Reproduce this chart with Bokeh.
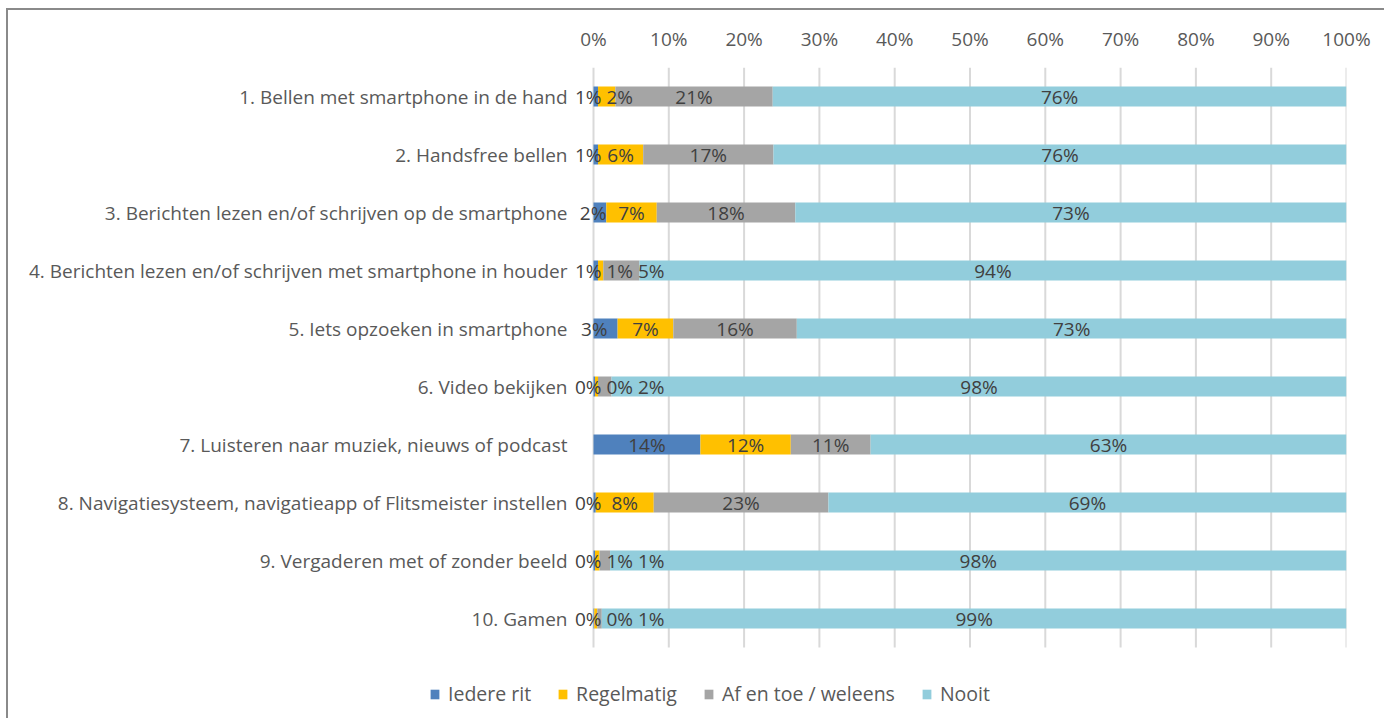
from bokeh.plotting import figure
from bokeh.models import ColumnDataSource, FixedTicker, PrintfTickFormatter, Legend, LegendItem, Range1d
from bokeh.embed import file_html
from bokeh.resources import INLINE
from bokeh.core.properties import value

categories = [
    "1. Bellen met smartphone in de hand",
    "2. Handsfree bellen",
    "3. Berichten lezen en/of schrijven op de smartphone",
    "4. Berichten lezen en/of schrijven met smartphone in houder",
    "5. Iets opzoeken in smartphone",
    "6. Video bekijken",
    "7. Luisteren naar muziek, nieuws of podcast",
    "8. Navigatiesysteem, navigatieapp of Flitsmeister instellen",
    "9. Vergaderen met of zonder beeld",
    "10. Gamen",
]
iedere_rit = [0.6, 0.6, 1.7, 0.6, 3.2, 0.2, 14.2, 0.3, 0.2, 0.1]
regelmatig = [2.3, 6.0, 6.7, 0.7, 7.4, 0.4, 12.0, 7.7, 0.6, 0.4]
af_en_toe = [20.9, 17.3, 18.4, 4.8, 16.4, 1.8, 10.6, 23.2, 1.4, 0.6]
nooit = [76.2, 76.1, 73.2, 93.9, 73.0, 97.6, 63.2, 68.8, 97.8, 98.9]
series_names = ["Iedere rit", "Regelmatig", "Af en toe / weleens", "Nooit"]
tick_values = [0, 10, 20, 30, 40, 50, 60, 70, 80, 90, 100]

colors = ["#4F81BD", "#FFC000", "#A5A5A5", "#92CDDC"]
keys = ["iedere", "regelmatig", "afentoe", "nooit"]
FONT = "Open Sans"

# layout (canvas pixels)
PX_PER_PCT = 7.53          # one percent point on the value axis
ROW_PX = 58                # height of one category band
LEFT_AREA_PX = 585         # room for category labels left of 0 %
FRAME_W = int(round(LEFT_AREA_PX + 100 * PX_PER_PCT))
FRAME_TOP = 57
FIG_W, FIG_H = 1378, 710
FRAME_H = FIG_H - FRAME_TOP
x_start = -LEFT_AREA_PX / PX_PER_PCT
y_top = 0.5
y_bottom = y_top + FRAME_H / ROW_PX

p = figure(
    width=FIG_W, height=FIG_H,
    min_border_left=0, min_border_right=FIG_W - FRAME_W, min_border_top=FRAME_TOP, min_border_bottom=0,
    x_range=Range1d(x_start, 100),
    y_range=Range1d(y_bottom, y_top),
    x_axis_location="above", y_axis_location=None,
    output_backend="svg", toolbar_location=None,
)
p.styles = {"margin-left": "6px", "margin-top": "8px",
            "border-left": "2px solid #8a8a8a", "border-top": "2px solid #8a8a8a"}
p.outline_line_color = None
p.background_fill_color = "white"
p.border_fill_color = "white"
p.xgrid.grid_line_color = None
p.ygrid.grid_line_color = None

rows = list(range(1, len(categories) + 1))

# vertical gridlines over the bar area
p.segment(x0=tick_values, x1=tick_values, y0=[0.5] * len(tick_values), y1=[len(categories) + 0.5] * len(tick_values),
          line_color="#D9D9D9", line_width=2)

source = ColumnDataSource(dict(row=rows, iedere=iedere_rit, regelmatig=regelmatig,
                               afentoe=af_en_toe, nooit=nooit))
renderers = p.hbar_stack(keys, y="row", height=0.345, color=colors, line_color=None, source=source)

# top value axis
p.xaxis.ticker = FixedTicker(ticks=tick_values)
p.xaxis.formatter = PrintfTickFormatter(format="%d%%")
p.xaxis.axis_line_color = None
p.xaxis.major_tick_line_color = None
p.xaxis.minor_tick_line_color = None
p.xaxis.major_tick_out = 0
p.xaxis.major_label_standoff = 16
p.xaxis.major_label_text_font = FONT
p.xaxis.major_label_text_font_size = "19px"
p.xaxis.major_label_text_color = "#595959"

# category labels
csrc = ColumnDataSource(dict(x=[0] * len(categories), y=rows, text=categories))
p.text(x="x", y="y", text="text", source=csrc, x_offset=-26, text_align="right", text_baseline="middle",
       text_font=value(FONT), text_font_size="19px", text_color="#595959")

# data labels: centered in segment, small ones shifted to avoid overlap
gap = 5.0
lx, ly, lt = [], [], []
series = [iedere_rit, regelmatig, af_en_toe, nooit]
for r in range(len(categories)):
    start = 0.0
    prev_right = None
    for i, s in enumerate(series):
        v = s[r]
        end = start + v
        txt = f"{round(v)}%"
        w = 10.9 * (len(txt) - 1) + 15.6
        c = (start + end) / 2 * PX_PER_PCT
        segw = v * PX_PER_PCT
        if i == 0 and w > segw:
            right = min(max(end * PX_PER_PCT, 8.0), 14.0)
            c = right - w / 2
        elif prev_right is not None and c - w / 2 < prev_right + gap:
            c = prev_right + gap + w / 2
        prev_right = c + w / 2
        lx.append(c / PX_PER_PCT)
        ly.append(rows[r])
        lt.append(txt)
        start = end

lsrc = ColumnDataSource(dict(x=lx, y=ly, text=lt))
p.text(x="x", y="y", text="text", source=lsrc, text_align="center", text_baseline="middle",
       text_font=value(FONT), text_font_size="19px", text_color="#404040")

legend = Legend(
    items=[LegendItem(label=n, renderers=[rd]) for n, rd in zip(series_names, renderers)],
    orientation="horizontal", location=(421, 13),
    label_text_font=FONT, label_text_font_size="19.5px", label_text_color="#595959",
    glyph_width=11, glyph_height=12, label_standoff=8, spacing=26,
    padding=0, margin=0, border_line_color=None, background_fill_alpha=0,
    label_height=20,
)
p.add_layout(legend, "center")

open("out.html", "w").write(file_html(p, INLINE))
